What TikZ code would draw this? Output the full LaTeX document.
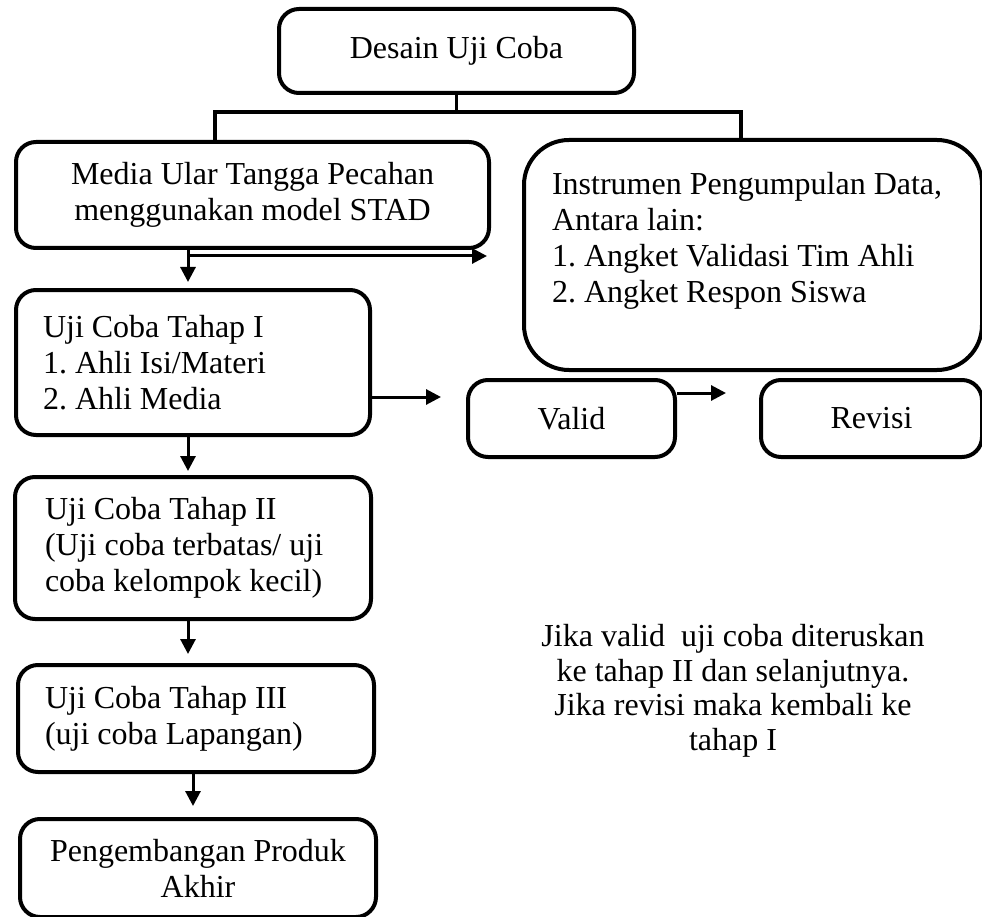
\documentclass[tikz,border=0pt]{standalone}
\usepackage{fontspec}
\setmainfont{Liberation Serif}
\usetikzlibrary{arrows.meta}
\frenchspacing
\begin{document}
\begin{tikzpicture}[x=1pt,y=-1pt,
  box/.style={draw, line width=4pt, rounded corners=20pt, inner sep=0pt, anchor=north west,
    font=\fontsize{32}{36}\selectfont},
  lbox/.style={box, align=flush left},
  cbox/.style={box, align=center},
  arr/.style={line width=3pt, -{Triangle[length=15pt,width=15pt]}},
  ln/.style={line width=3.5pt},
  note/.style={align=center, inner sep=0pt, font=\fontsize{32}{34.5}\selectfont}]
\useasboundingbox (0,0) rectangle (982,917);

\node[cbox, minimum width=355pt, minimum height=84pt] (D) at (277,7) {Desain Uji Coba};
\node[cbox, minimum width=473pt, minimum height=106pt] (M) at (14,140)
  {Media Ular Tangga Pecahan\\menggunakan model STAD};
\node[lbox, rounded corners=45pt, minimum width=458pt, minimum height=230pt, text width=402pt] (I) at (522,138)
  {Instrumen Pengumpulan Data,\\Antara lain:\\1. Angket Validasi Tim Ahli\\2. Angket Respon Siswa\\\mbox{}};
\node[lbox, minimum width=354pt, minimum height=145pt, text width=300pt] (U1) at (14,288)
  {Uji Coba Tahap I\\1. Ahli Isi/Materi\\2. Ahli Media};
\node[lbox, minimum width=356pt, minimum height=142pt, text width=296pt] (U2) at (13,475)
  {Uji Coba Tahap II\\(Uji coba terbatas/ uji\\coba kelompok kecil)};
\node[lbox, minimum width=356pt, minimum height=107pt, text width=302pt] (U3) at (16,663)
  {Uji Coba Tahap III\\(uji coba Lapangan)};
\node[cbox, minimum width=356pt, minimum height=98pt] (P) at (18,817)
  {Pengembangan Produk\\Akhir};
\node[cbox, minimum width=207pt, minimum height=77pt] (V) at (466,378) {Valid};
\node[cbox, minimum width=221pt, minimum height=77pt] (R) at (759,378) {Revisi};

\node[note] (N) at (733,691) {Jika valid\ \ uji coba diteruskan\\ke tahap II dan selanjutnya.\\Jika revisi maka kembali ke\\tahap I};

% top tree connector
\coordinate (jl) at (215,112);
\coordinate (jr) at (741,112);
\draw[ln] (D.south) -- (D.south |- jl);
\draw[ln, line cap=rect] (jl) -- (jr);
\draw[ln] (jl) -- (jl |- M.north);
\draw[ln] (jr) -- (jr |- I.north);

% media arrows
\coordinate (ma) at (188,0);
\coordinate (hs) at (188,256);
\coordinate (he) at (487,256);
\draw[arr, shorten >=6pt] (ma |- M.south) -- (ma |- U1.north);
\draw[arr] (hs) -- (he);

% Uji I to Valid, Valid to Revisi
\coordinate (v1) at (441,397);
\coordinate (v2) at (726,393);
\draw[arr] (v1 -| U1.east) -- (v1);
\draw[arr] (v2 -| V.east) -- (v2);

% vertical chain
\draw[arr, shorten >=4pt] (ma |- U1.south) -- (ma |- U2.north);
\draw[arr, shorten >=9pt] (ma |- U2.south) -- (ma |- U3.north);
\coordinate (mb) at (193,0);
\draw[arr, shorten >=11pt] (mb |- U3.south) -- (mb |- P.north);
\end{tikzpicture}
\end{document}
